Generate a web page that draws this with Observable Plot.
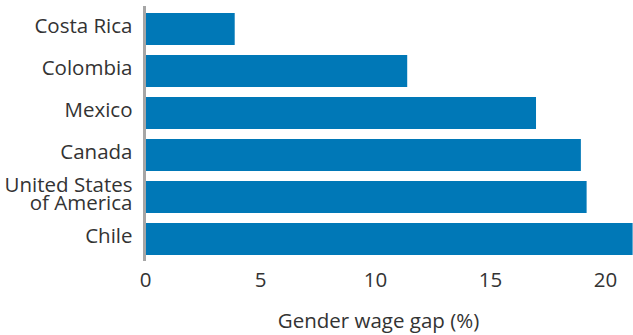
<!DOCTYPE html>
<html><head><meta charset="utf-8">
<script src="https://cdn.jsdelivr.net/npm/d3@7"></script>
<script src="https://cdn.jsdelivr.net/npm/@observablehq/plot@0.6"></script>
<style>body{margin:0;background:#fff;} svg{font-family:"Open Sans",Lato,sans-serif;}</style>
</head><body><div id="chart"></div>
<script>
const countries = ["Costa Rica","Colombia","Mexico","Canada","United States of America","Chile"];
const countryLabels = ["Costa Rica","Colombia","Mexico","Canada","United States\nof America","Chile"];
const gap = [3.9, 11.4, 17.0, 18.95, 19.2, 21.2];
const xTicks = [0,5,10,15,20];
const data = countries.map((c,i)=>({country:c, gap:gap[i]}));
const labelMap = new Map(countries.map((c,i)=>[c,countryLabels[i]]));
const chart = Plot.plot({
  width:633, height:335,
  marginLeft:145, marginRight:22, marginTop:6, marginBottom:74,
  style:{fontSize:"20.5px", color:"#333", fontFamily:"'Open Sans', Lato, sans-serif"},
  x:{domain:[0,20.26], ticks:xTicks},
  y:{domain:countries, paddingInner:0.25, paddingOuter:0.125},
  marks:[
    Plot.barX(data,{x:"gap", y:"country", fill:"#0078b7"}),
    Plot.ruleX([0],{stroke:"#a6a6a6", strokeWidth:3, dx:-1}),
    Plot.axisY({tickSize:0, tickPadding:13, label:null, tickFormat:d=>labelMap.get(d), lineHeight:0.84, fontSize:20.5, dy:-2}),
    Plot.axisX({ticks:xTicks, tickSize:0, tickPadding:11, fontSize:20.5, label:"Gender wage gap (%)", labelAnchor:"center", labelArrow:"none", labelOffset:66})
  ]
});
document.getElementById("chart").append(chart);
</script></body></html>
